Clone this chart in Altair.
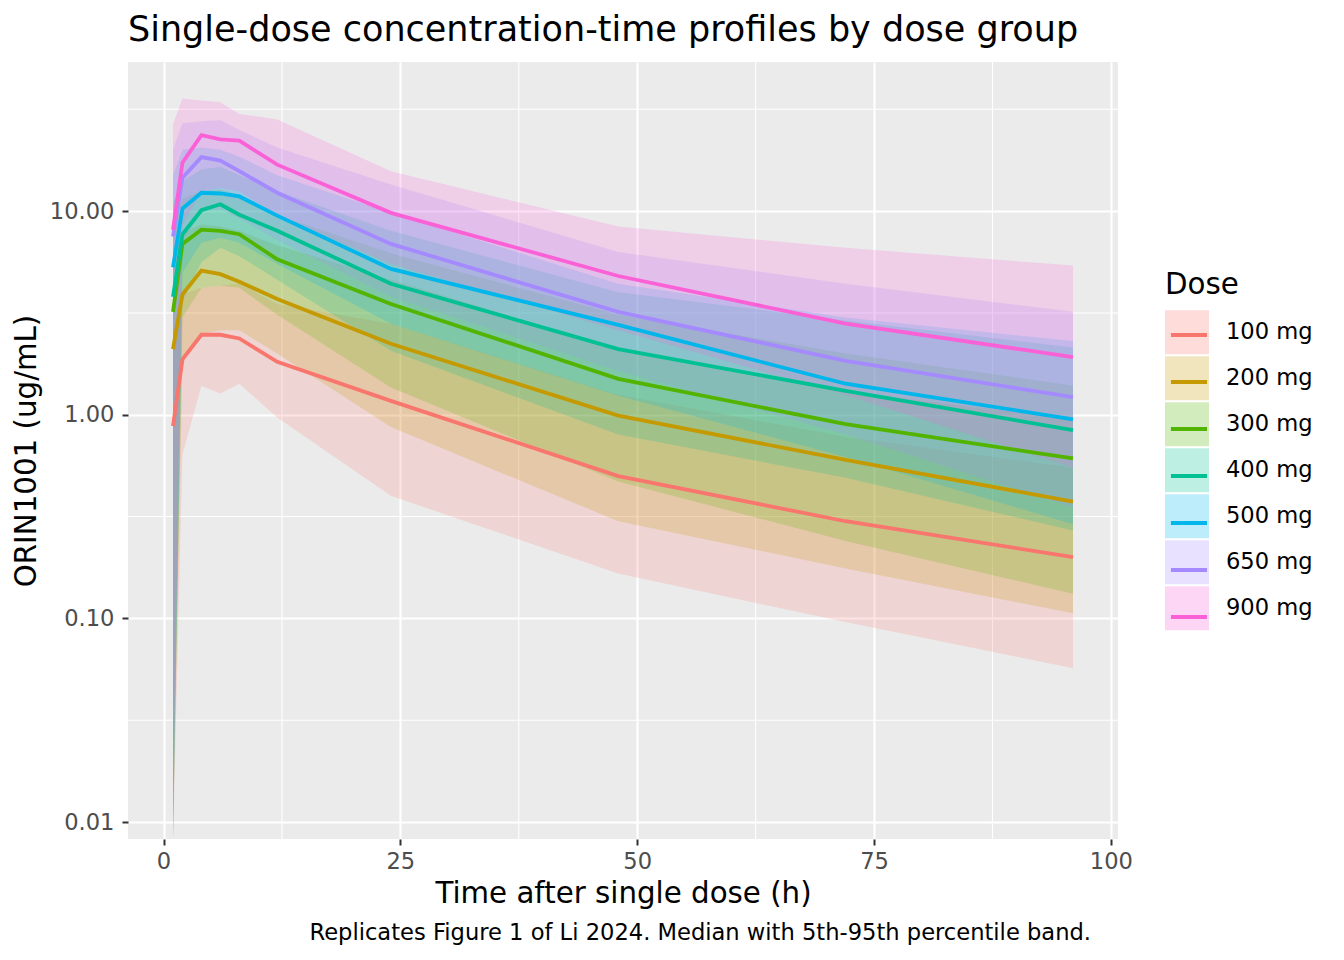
import altair as alt
import pandas as pd

times = [1, 2, 4, 6, 8, 12, 24, 48, 72, 96]
doses = ["100 mg", "200 mg", "300 mg", "400 mg", "500 mg", "650 mg", "900 mg"]
colors = ["#F8766D", "#C49A00", "#53B400", "#00C094", "#00B6EB", "#A58AFF", "#FB61D7"]

median = {
    "100 mg": [0.88, 1.87, 2.47, 2.47, 2.37, 1.82, 1.17, 0.50, 0.30, 0.20],
    "200 mg": [2.1, 3.9, 5.1, 4.9, 4.5, 3.7, 2.23, 0.99, 0.60, 0.375],
    "300 mg": [3.2, 6.9, 8.1, 8.0, 7.7, 5.8, 3.5, 1.5, 0.90, 0.61],
    "400 mg": [3.8, 7.7, 10.1, 10.8, 9.6, 8.0, 4.4, 2.1, 1.31, 0.84],
    "500 mg": [5.3, 10.3, 12.3, 12.2, 11.8, 9.5, 5.2, 2.76, 1.42, 0.95],
    "650 mg": [7.5, 14.6, 18.4, 17.7, 15.7, 12.3, 6.9, 3.2, 1.84, 1.22],
    "900 mg": [8.1, 17.3, 23.6, 22.5, 22.2, 16.9, 9.8, 4.8, 2.8, 1.92],
}
lower = {
    "100 mg": [0.0083, 0.64, 1.39, 1.27, 1.42, 0.97, 0.40, 0.166, 0.096, 0.057],
    "200 mg": [0.0083, 1.9, 2.5, 2.6, 2.6, 2.0, 0.87, 0.30, 0.176, 0.106],
    "300 mg": [0.0083, 3.0, 4.2, 4.3, 4.2, 3.1, 1.36, 0.47, 0.24, 0.132],
    "400 mg": [0.0083, 3.6, 5.6, 6.6, 6.0, 4.6, 2.06, 0.80, 0.49, 0.27],
    "500 mg": [0.0083, 5.0, 7.0, 7.4, 7.0, 5.5, 2.8, 1.24, 0.62, 0.29],
    "650 mg": [0.0083, 7.0, 10.0, 10.2, 9.2, 7.2, 3.8, 1.64, 0.80, 0.35],
    "900 mg": [0.012, 8.5, 12.5, 13.0, 12.5, 9.5, 5.5, 2.6, 1.25, 0.55],
}
upper = {
    "100 mg": [2.6, 3.9, 4.2, 4.3, 4.4, 3.5, 2.8, 1.25, 0.78, 0.55],
    "200 mg": [6.5, 7.8, 8.6, 8.4, 8.0, 6.8, 4.6, 2.1, 1.3, 0.95],
    "300 mg": [9.0, 11.5, 12.5, 12.8, 12.0, 9.5, 6.2, 3.1, 2.0, 1.39],
    "400 mg": [11.0, 14.0, 16.0, 16.5, 15.0, 12.5, 8.0, 4.0, 2.9, 2.14],
    "500 mg": [15.0, 20.0, 20.5, 20.0, 18.5, 15.0, 9.8, 4.4, 3.0, 2.3],
    "650 mg": [20.0, 27.0, 27.6, 28.0, 25.0, 20.5, 13.5, 6.3, 4.4, 3.2],
    "900 mg": [26.6, 35.7, 34.9, 34.2, 30.0, 28.2, 15.7, 8.4, 6.6, 5.4],
}

x_major = [0, 25, 50, 75, 100]
x_minor = [12.5, 37.5, 62.5, 87.5]
y_major = [0.01, 0.1, 1, 10]
y_minor = [0.0316228, 0.316228, 3.16228, 31.6228]

title_text = "Single-dose concentration-time profiles by dose group"
x_title = "Time after single dose (h)"
y_title = "ORIN1001 (ug/mL)"
legend_title = "Dose"
caption = "Replicates Figure 1 of Li 2024. Median with 5th-95th percentile band."

rows = []
for d in doses:
    for i, t in enumerate(times):
        rows.append({"time": t, "dose": d, "dose_line": d, "median": median[d][i],
                     "lo": lower[d][i], "hi": upper[d][i]})
df = pd.DataFrame(rows)

FONT = "DejaVu Sans"
TICK = 22.6
TITLE2 = 29.3
xs = alt.Scale(domain=[-3.75, 100.75], nice=False, zero=False)
ys = alt.Scale(type="log", domain=[0.00826, 53.95], nice=False)
xaxis = alt.Axis(values=x_major, title=x_title, labelPadding=5, titlePadding=7)
yaxis = alt.Axis(values=y_major, format=".2f", title=y_title, labelPadding=8, titlePadding=8)

minor_x = alt.Chart(pd.DataFrame({"v": x_minor})).mark_rule(color="white", strokeWidth=1.07).encode(
    x=alt.X("v:Q", scale=xs, axis=xaxis))
minor_y = alt.Chart(pd.DataFrame({"v": y_minor})).mark_rule(color="white", strokeWidth=1.07).encode(
    y=alt.Y("v:Q", scale=ys, axis=yaxis))

fill_legend = alt.Legend(
    orient="none", legendX=1037, legendY=209, title=legend_title, titleFontSize=TITLE2,
    titleFont=FONT, titleFontWeight="normal", titleColor="black", titlePadding=10,
    symbolType="square", symbolSize=1936, symbolOpacity=0.26, symbolStrokeWidth=0,
    labelFont=FONT, labelFontSize=TICK, labelColor="black", labelOffset=17,
    rowPadding=2, padding=0, offset=0)
stroke_legend = alt.Legend(
    orient="none", legendX=1037, legendY=249, title=None,
    symbolType="M-1,-0.6045M1,0.6045M-0.82,0H0.82", symbolSize=1936, symbolStrokeWidth=3.8,
    symbolOpacity=1, labelExpr="''", labelFontSize=TICK, labelOffset=17,
    rowPadding=2, padding=0, offset=0)

band = alt.Chart(df).mark_area(opacity=0.2, clip=True).encode(
    x=alt.X("time:Q", scale=xs, axis=xaxis),
    y=alt.Y("lo:Q", scale=ys, axis=yaxis),
    y2="hi:Q",
    fill=alt.Fill("dose:N", scale=alt.Scale(domain=doses, range=colors), legend=fill_legend),
)
line = alt.Chart(df).mark_line(strokeWidth=3.8, clip=True).encode(
    x=alt.X("time:Q", scale=xs, axis=xaxis),
    y=alt.Y("median:Q", scale=ys, axis=yaxis),
    stroke=alt.Stroke("dose_line:N", scale=alt.Scale(range=colors), legend=stroke_legend),
)
cap = alt.Chart(pd.DataFrame({"t": [caption]})).mark_text(
    align="right", baseline="alphabetic", font=FONT, fontSize=TICK, color="black"
).encode(text="t:N", x=alt.value(963), y=alt.value(878))

chart = alt.layer(minor_x, minor_y, band, line, cap).properties(
    width=990, height=777,
    title=alt.Title(title_text, anchor="start", frame="group", fontSize=35, font=FONT,
                    fontWeight="normal", color="black", offset=13),
    autosize=alt.AutoSizeParams(type="none"),
    padding={"left": 120, "top": 54, "right": 218, "bottom": 113},
    background="white",
).configure_view(fill="#EBEBEB", strokeWidth=0).configure_axis(
    domain=False, grid=True, gridColor="white", gridWidth=2.1,
    tickColor="#333333", tickWidth=2, tickSize=6,
    labelFont=FONT, labelFontSize=TICK, labelColor="#4D4D4D",
    titleFont=FONT, titleFontSize=TITLE2, titleFontWeight="normal", titleColor="black",
)

chart.save("out.html", embed_options={"renderer": "svg", "actions": False})
